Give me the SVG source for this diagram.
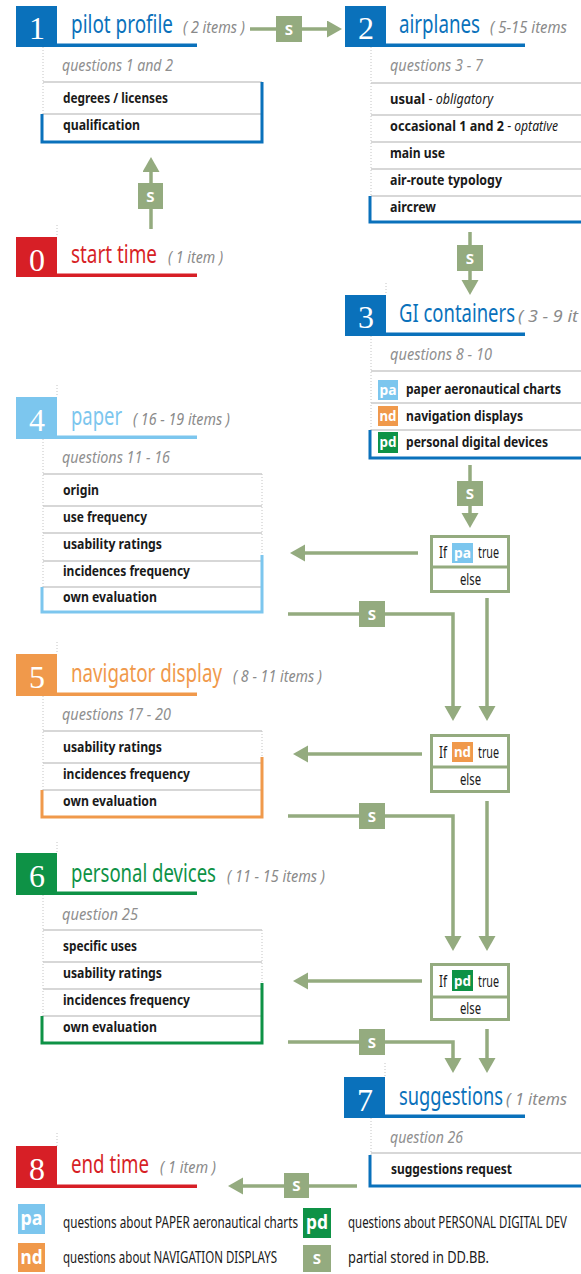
<svg xmlns="http://www.w3.org/2000/svg" width="581" height="1274" viewBox="0 0 581 1274">
<style>
text{font-family:"Noto Sans","Liberation Sans",Arial,sans-serif;font-stretch:condensed}
.num{font-family:"Liberation Serif","Times New Roman",serif;font-stretch:normal;font-size:32px;fill:#fff;text-anchor:middle}
.ttl{font-size:25px}
.cnt{font-style:italic;font-size:16.5px;fill:#8a8a8a}
.q{font-style:italic;font-size:16.5px;fill:#8f8f8f}
.it{font-weight:bold;font-size:14.5px;fill:#1a1a1a}
.itl{font-style:italic;font-size:14px;font-weight:normal;fill:#1a1a1a}
.dash{font-size:14px;font-weight:normal;fill:#1a1a1a}
.sep{stroke:#cacaca;stroke-width:1.3}
.dot{stroke:#c4c4c4;stroke-width:1;stroke-dasharray:1 2}
.conn{fill:none;stroke:#94ab7f;stroke-width:3.5}
.sbox{fill:#94ab7f}
.stxt{fill:#fff;font-weight:bold;font-size:15px;text-anchor:middle}
.ifbox{fill:#fff;stroke:#94ab7f;stroke-width:3}
.iftxt{font-size:16px;fill:#1a1a1a}
.btxt{fill:#fff;font-weight:bold;font-size:15px;text-anchor:middle}
.lbtxt{fill:#fff;font-weight:bold;font-size:19px;text-anchor:middle}
.lg{font-size:16.5px;fill:#1a1a1a}
.blue{fill:#0a71bb}.red{fill:#d71f26}.lblue{fill:#7cc6ee}.orange{fill:#f0994b}.green{fill:#0e9246}
.acc{fill:none;stroke-width:3}
.ab{stroke:#0a71bb}.alb{stroke:#7cc6ee}.ao{stroke:#f0994b}.ag{stroke:#0e9246}
</style>
<defs>
<marker id="ah" markerUnits="userSpaceOnUse" markerWidth="16" markerHeight="18" refX="0" refY="8.5" orient="auto">
<path d="M0,0 L15,8.5 L0,17 Z" fill="#94ab7f"/>
</marker>
</defs>

<g id="connectors">
<path class="conn" d="M151,229 V172" marker-end="url(#ah)"/>
<path class="conn" d="M250,29 H327" marker-end="url(#ah)"/>
<path class="conn" d="M470,232 V280" marker-end="url(#ah)"/>
<path class="conn" d="M470,465 V513" marker-end="url(#ah)"/>
<path class="conn" d="M418,553 H305" marker-end="url(#ah)"/>
<path class="conn" d="M288,614 H453 V706" marker-end="url(#ah)"/>
<path class="conn" d="M487,598 V706" marker-end="url(#ah)"/>
<path class="conn" d="M422,754 H308" marker-end="url(#ah)"/>
<path class="conn" d="M288,816 H453 V936" marker-end="url(#ah)"/>
<path class="conn" d="M487,801 V936" marker-end="url(#ah)"/>
<path class="conn" d="M422,981 H308" marker-end="url(#ah)"/>
<path class="conn" d="M288,1042 H453 V1058" marker-end="url(#ah)"/>
<path class="conn" d="M487,1029 V1058" marker-end="url(#ah)"/>
<path class="conn" d="M357,1186 H243" marker-end="url(#ah)"/>
<rect class="sbox" x="138" y="183" width="25" height="26"/><text class="stxt" x="150.5" y="201.5">S</text>
<rect class="sbox" x="276" y="16" width="26" height="26"/><text class="stxt" x="289" y="34.5">S</text>
<rect class="sbox" x="457" y="245" width="26" height="26"/><text class="stxt" x="470" y="263.5">S</text>
<rect class="sbox" x="457" y="481" width="26" height="25"/><text class="stxt" x="470" y="499">S</text>
<rect class="sbox" x="359" y="601" width="26" height="26"/><text class="stxt" x="372" y="619.5">S</text>
<rect class="sbox" x="359" y="803" width="26" height="26"/><text class="stxt" x="372" y="821.5">S</text>
<rect class="sbox" x="359" y="1029" width="26" height="26"/><text class="stxt" x="372" y="1047.5">S</text>
<rect class="sbox" x="284" y="1173" width="25" height="25"/><text class="stxt" x="296.5" y="1191">S</text>
</g>

<g id="node0">
<line class="dot" x1="57" y1="225" x2="57" y2="237"/>
<rect class="red" x="16" y="237" width="41" height="40"/>
<rect class="red" x="57" y="273.5" width="140" height="3.5"/>
<text class="num" x="37" y="271">0</text>
<text class="ttl red" x="71" y="263" textLength="86" lengthAdjust="spacingAndGlyphs">start time</text>
<text class="cnt" x="168" y="263" textLength="55" lengthAdjust="spacingAndGlyphs">( 1 item )</text>
</g>

<g id="node1">
<rect class="blue" x="16" y="6" width="41" height="41"/>
<rect class="blue" x="57" y="43.5" width="140" height="3.5"/>
<text class="num" x="37" y="39">1</text>
<text class="ttl blue" x="71" y="33" textLength="102" lengthAdjust="spacingAndGlyphs">pilot profile</text>
<text class="cnt" x="183" y="33" textLength="62" lengthAdjust="spacingAndGlyphs">( 2 items )</text>
<line class="dot" x1="43" y1="47" x2="43" y2="114"/>
<text class="q" x="62" y="71" textLength="111" lengthAdjust="spacingAndGlyphs">questions 1 and 2</text>
<line class="sep" x1="43" y1="82" x2="262" y2="82"/>
<line class="sep" x1="43" y1="114" x2="262" y2="114"/>
<text class="it" x="63" y="103" textLength="105" lengthAdjust="spacingAndGlyphs">degrees / licenses</text>
<text class="it" x="63" y="130" textLength="77" lengthAdjust="spacingAndGlyphs">qualification</text>
<path class="acc ab" d="M42,114 V142 H262 V82"/>
</g>

<g id="node2">
<rect class="blue" x="345" y="6" width="41" height="41"/>
<rect class="blue" x="386" y="43.5" width="139" height="3.5"/>
<text class="num" x="366" y="39">2</text>
<text class="ttl blue" x="399" y="33" textLength="81" lengthAdjust="spacingAndGlyphs">airplanes</text>
<text class="cnt" x="490" y="33" textLength="77" lengthAdjust="spacingAndGlyphs">( 5-15 items</text>
<line class="dot" x1="371" y1="47" x2="371" y2="196"/>
<text class="q" x="390" y="71" textLength="93" lengthAdjust="spacingAndGlyphs">questions 3 - 7</text>
<line class="sep" x1="371" y1="83" x2="581" y2="83"/>
<line class="sep" x1="371" y1="115" x2="581" y2="115"/>
<line class="sep" x1="371" y1="142" x2="581" y2="142"/>
<line class="sep" x1="371" y1="169" x2="581" y2="169"/>
<line class="sep" x1="371" y1="196" x2="581" y2="196"/>
<text class="it" x="390" y="104" textLength="103" lengthAdjust="spacingAndGlyphs">usual <tspan class="dash"> - </tspan><tspan class="itl">obligatory</tspan></text>
<text class="it" x="390" y="131" textLength="168" lengthAdjust="spacingAndGlyphs">occasional 1 and 2 <tspan class="dash"> - </tspan><tspan class="itl">optative</tspan></text>
<text class="it" x="390" y="158" textLength="55" lengthAdjust="spacingAndGlyphs">main use</text>
<text class="it" x="390" y="185" textLength="112" lengthAdjust="spacingAndGlyphs">air-route typology</text>
<text class="it" x="390" y="212" textLength="46" lengthAdjust="spacingAndGlyphs">aircrew</text>
<path class="acc ab" d="M370,196 V222 H585"/>
</g>

<g id="node3">
<line class="dot" x1="386" y1="283" x2="386" y2="295"/>
<rect class="blue" x="345" y="295" width="41" height="41"/>
<rect class="blue" x="386" y="332.5" width="139" height="3.5"/>
<text class="num" x="366" y="328">3</text>
<text class="ttl blue" x="399" y="322" textLength="116" lengthAdjust="spacingAndGlyphs">GI containers</text>
<text class="cnt" x="518" y="322" textLength="60" lengthAdjust="spacingAndGlyphs">( 3 - 9 it</text>
<line class="dot" x1="371" y1="336" x2="371" y2="430"/>
<text class="q" x="390" y="360" textLength="102" lengthAdjust="spacingAndGlyphs">questions 8 - 10</text>
<line class="sep" x1="371" y1="371" x2="581" y2="371"/>
<line class="sep" x1="371" y1="403" x2="581" y2="403"/>
<line class="sep" x1="371" y1="430" x2="581" y2="430"/>
<rect class="lblue" x="378" y="380" width="20" height="20"/><text class="btxt" x="388" y="395" textLength="17" lengthAdjust="spacingAndGlyphs">pa</text>
<rect class="orange" x="378" y="406" width="20" height="20"/><text class="btxt" x="388" y="421" textLength="17" lengthAdjust="spacingAndGlyphs">nd</text>
<rect class="green" x="378" y="432" width="20" height="21"/><text class="btxt" x="388" y="447" textLength="17" lengthAdjust="spacingAndGlyphs">pd</text>
<text class="it" x="406" y="394" textLength="155" lengthAdjust="spacingAndGlyphs">paper aeronautical charts</text>
<text class="it" x="406" y="421" textLength="117" lengthAdjust="spacingAndGlyphs">navigation displays</text>
<text class="it" x="406" y="447" textLength="142" lengthAdjust="spacingAndGlyphs">personal digital devices</text>
<path class="acc ab" d="M370,430 V458 H585"/>
</g>

<g id="node4">
<line class="dot" x1="57" y1="385" x2="57" y2="397"/>
<rect class="lblue" x="16" y="397" width="41" height="42"/>
<rect class="lblue" x="57" y="435.5" width="140" height="3.5"/>
<text class="num" x="37" y="431">4</text>
<text class="ttl lblue" x="71" y="425" textLength="51" lengthAdjust="spacingAndGlyphs">paper</text>
<text class="cnt" x="133" y="425" textLength="97" lengthAdjust="spacingAndGlyphs">( 16 - 19 items )</text>
<line class="dot" x1="43" y1="439" x2="43" y2="587"/>
<line class="dot" x1="262" y1="474" x2="262" y2="555"/>
<text class="q" x="62" y="463" textLength="108" lengthAdjust="spacingAndGlyphs">questions 11 - 16</text>
<line class="sep" x1="43" y1="474" x2="262" y2="474"/>
<line class="sep" x1="43" y1="506" x2="262" y2="506"/>
<line class="sep" x1="43" y1="533" x2="262" y2="533"/>
<line class="sep" x1="43" y1="561" x2="262" y2="561"/>
<line class="sep" x1="43" y1="587" x2="262" y2="587"/>
<text class="it" x="63" y="495" textLength="36" lengthAdjust="spacingAndGlyphs">origin</text>
<text class="it" x="63" y="522" textLength="84" lengthAdjust="spacingAndGlyphs">use frequency</text>
<text class="it" x="63" y="549" textLength="99" lengthAdjust="spacingAndGlyphs">usability ratings</text>
<text class="it" x="63" y="576" textLength="127" lengthAdjust="spacingAndGlyphs">incidences frequency</text>
<text class="it" x="63" y="602" textLength="94" lengthAdjust="spacingAndGlyphs">own evaluation</text>
<path class="acc alb" d="M42,587 V612 H262 V555"/>
</g>

<g id="node5">
<line class="dot" x1="57" y1="642" x2="57" y2="654"/>
<rect class="orange" x="16" y="654" width="41" height="42"/>
<rect class="orange" x="57" y="692.5" width="140" height="3.5"/>
<text class="num" x="37" y="688">5</text>
<text class="ttl orange" x="71" y="682" textLength="151" lengthAdjust="spacingAndGlyphs">navigator display</text>
<text class="cnt" x="233" y="682" textLength="89" lengthAdjust="spacingAndGlyphs">( 8 - 11 items )</text>
<line class="dot" x1="43" y1="696" x2="43" y2="790"/>
<line class="dot" x1="262" y1="731" x2="262" y2="757"/>
<text class="q" x="62" y="720" textLength="109" lengthAdjust="spacingAndGlyphs">questions 17 - 20</text>
<line class="sep" x1="43" y1="731" x2="262" y2="731"/>
<line class="sep" x1="43" y1="763" x2="262" y2="763"/>
<line class="sep" x1="43" y1="790" x2="262" y2="790"/>
<text class="it" x="63" y="752" textLength="99" lengthAdjust="spacingAndGlyphs">usability ratings</text>
<text class="it" x="63" y="779" textLength="127" lengthAdjust="spacingAndGlyphs">incidences frequency</text>
<text class="it" x="63" y="806" textLength="94" lengthAdjust="spacingAndGlyphs">own evaluation</text>
<path class="acc ao" d="M42,790 V817 H262 V757"/>
</g>

<g id="node6">
<line class="dot" x1="57" y1="842" x2="57" y2="853"/>
<rect class="green" x="16" y="853" width="41" height="42"/>
<rect class="green" x="57" y="891.5" width="140" height="3.5"/>
<text class="num" x="37" y="887">6</text>
<text class="ttl green" x="71" y="882" textLength="145" lengthAdjust="spacingAndGlyphs">personal devices</text>
<text class="cnt" x="227" y="882" textLength="98" lengthAdjust="spacingAndGlyphs">( 11 - 15 items )</text>
<line class="dot" x1="43" y1="895" x2="43" y2="1016"/>
<line class="dot" x1="262" y1="930" x2="262" y2="983"/>
<text class="q" x="62" y="920" textLength="76" lengthAdjust="spacingAndGlyphs">question  25</text>
<line class="sep" x1="43" y1="930" x2="262" y2="930"/>
<line class="sep" x1="43" y1="962" x2="262" y2="962"/>
<line class="sep" x1="43" y1="989" x2="262" y2="989"/>
<line class="sep" x1="43" y1="1016" x2="262" y2="1016"/>
<text class="it" x="63" y="951" textLength="74" lengthAdjust="spacingAndGlyphs">specific uses</text>
<text class="it" x="63" y="978" textLength="99" lengthAdjust="spacingAndGlyphs">usability ratings</text>
<text class="it" x="63" y="1005" textLength="127" lengthAdjust="spacingAndGlyphs">incidences frequency</text>
<text class="it" x="63" y="1032" textLength="94" lengthAdjust="spacingAndGlyphs">own evaluation</text>
<path class="acc ag" d="M42,1016 V1043 H262 V983"/>
</g>

<g id="node7">
<line class="dot" x1="385" y1="1063" x2="385" y2="1077"/>
<rect class="blue" x="344" y="1077" width="41" height="41"/>
<rect class="blue" x="385" y="1114.5" width="140" height="3.5"/>
<text class="num" x="365" y="1111">7</text>
<text class="ttl blue" x="399" y="1105" textLength="104" lengthAdjust="spacingAndGlyphs">suggestions</text>
<text class="cnt" x="506" y="1105" textLength="61" lengthAdjust="spacingAndGlyphs">( 1 items</text>
<line class="dot" x1="371" y1="1118" x2="371" y2="1155"/>
<text class="q" x="390" y="1143" textLength="73" lengthAdjust="spacingAndGlyphs">question 26</text>
<line class="sep" x1="371" y1="1153" x2="581" y2="1153"/>
<text class="it" x="391" y="1174" textLength="121" lengthAdjust="spacingAndGlyphs">suggestions request</text>
<path class="acc ab" d="M370,1155 V1186 H585"/>
</g>

<g id="node8">
<line class="dot" x1="57" y1="1133" x2="57" y2="1146"/>
<rect class="red" x="16" y="1146" width="41" height="42"/>
<rect class="red" x="57" y="1184.5" width="140" height="3.5"/>
<text class="num" x="37" y="1180">8</text>
<text class="ttl red" x="71" y="1173" textLength="78" lengthAdjust="spacingAndGlyphs">end time</text>
<text class="cnt" x="160" y="1173" textLength="56" lengthAdjust="spacingAndGlyphs">( 1 item )</text>
</g>

<g id="if_pa">
<rect class="ifbox" x="431.5" y="536.5" width="77" height="55"/>
<line class="ifbox" x1="431.5" y1="567" x2="508.5" y2="567"/>
<text class="iftxt" x="439" y="558" textLength="8" lengthAdjust="spacingAndGlyphs">If</text>
<rect class="lblue" x="452" y="543" width="21" height="20"/><text class="btxt" x="462.5" y="558" textLength="17" lengthAdjust="spacingAndGlyphs">pa</text>
<text class="iftxt" x="478" y="558" textLength="21" lengthAdjust="spacingAndGlyphs">true</text>
<text class="iftxt" x="470.5" y="585" text-anchor="middle" textLength="21" lengthAdjust="spacingAndGlyphs">else</text>
</g>

<g id="if_nd">
<rect class="ifbox" x="431.5" y="735.5" width="77" height="56"/>
<line class="ifbox" x1="431.5" y1="767" x2="508.5" y2="767"/>
<text class="iftxt" x="439" y="758" textLength="8" lengthAdjust="spacingAndGlyphs">If</text>
<rect class="orange" x="452" y="742" width="21" height="20"/><text class="btxt" x="462.5" y="757" textLength="17" lengthAdjust="spacingAndGlyphs">nd</text>
<text class="iftxt" x="478" y="758" textLength="21" lengthAdjust="spacingAndGlyphs">true</text>
<text class="iftxt" x="470.5" y="785" text-anchor="middle" textLength="21" lengthAdjust="spacingAndGlyphs">else</text>
</g>

<g id="if_pd">
<rect class="ifbox" x="431.5" y="964.5" width="77" height="55"/>
<line class="ifbox" x1="431.5" y1="997" x2="508.5" y2="997"/>
<text class="iftxt" x="439" y="987" textLength="8" lengthAdjust="spacingAndGlyphs">If</text>
<rect class="green" x="452" y="970" width="21" height="21"/><text class="btxt" x="462.5" y="986" textLength="17" lengthAdjust="spacingAndGlyphs">pd</text>
<text class="iftxt" x="478" y="987" textLength="21" lengthAdjust="spacingAndGlyphs">true</text>
<text class="iftxt" x="470.5" y="1014" text-anchor="middle" textLength="21" lengthAdjust="spacingAndGlyphs">else</text>
</g>

<g id="legend">
<rect class="lblue" x="18" y="1204" width="27" height="30"/><text class="lbtxt" x="31.5" y="1225" textLength="22" lengthAdjust="spacingAndGlyphs">pa</text>
<text class="lg" x="63" y="1228" textLength="235" lengthAdjust="spacingAndGlyphs">questions about PAPER aeronautical charts</text>
<rect class="orange" x="18" y="1243" width="27" height="29"/><text class="lbtxt" x="31.5" y="1264" textLength="22" lengthAdjust="spacingAndGlyphs">nd</text>
<text class="lg" x="63" y="1263" textLength="214" lengthAdjust="spacingAndGlyphs">questions about NAVIGATION DISPLAYS</text>
<rect class="green" x="303" y="1208" width="28" height="30"/><text class="lbtxt" x="317" y="1229" textLength="22" lengthAdjust="spacingAndGlyphs">pd</text>
<text class="lg" x="348" y="1228" textLength="219" lengthAdjust="spacingAndGlyphs">questions about PERSONAL DIGITAL DEV</text>
<rect class="sbox" x="303" y="1245" width="28" height="27"/><text class="stxt" x="317" y="1264">S</text>
<text class="lg" x="348" y="1263" textLength="141" lengthAdjust="spacingAndGlyphs">partial stored in DD.BB.</text>
</g>
</svg>
